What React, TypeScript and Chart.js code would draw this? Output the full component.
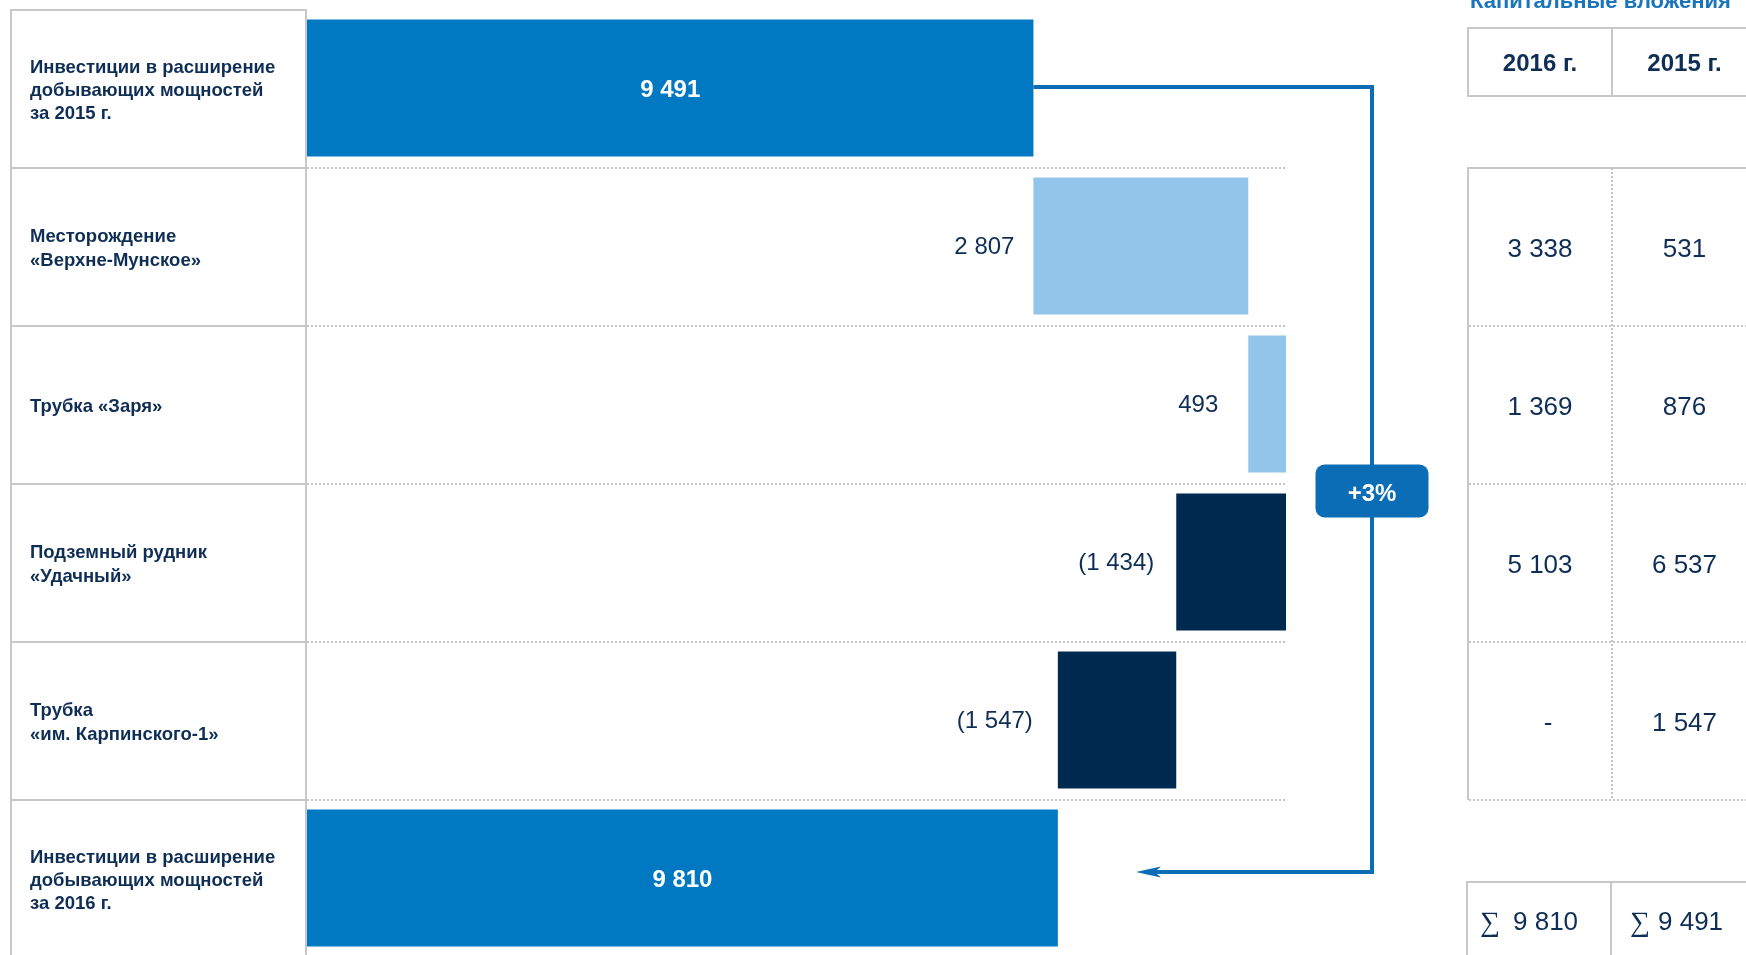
import React, { useEffect, useRef } from 'react';
import { Chart, registerables } from 'chart.js';

Chart.register(...registerables);

// ---------- data ----------
const CATEGORIES: (string | string[])[] = [
  ['Инвестиции в расширение', 'добывающих мощностей', 'за 2015 г.'],
  ['Месторождение', '«Верхне-Мунское»'],
  'Трубка «Заря»',
  ['Подземный рудник', '«Удачный»'],
  ['Трубка', '«им. Карпинского-1»'],
  ['Инвестиции в расширение', 'добывающих мощностей', 'за 2016 г.'],
];
const START_TOTAL = 9491;
const CHANGES = [2807, 493, -1434, -1547];
const END_TOTAL = 9810;
const GROWTH_LABEL = '+3%';

const TABLE_TITLE = 'Капитальные вложения';
const TABLE_YEARS = ['2016 г.', '2015 г.'];
const CAPEX_2016: (number | null)[] = [3338, 1369, 5103, null];
const CAPEX_2015: (number | null)[] = [531, 876, 6537, 1547];
const TOTAL_2016 = 9810;
const TOTAL_2015 = 9491;

// ---------- styles ----------
const SANS = "'Liberation Sans', Arial, Helvetica, sans-serif";
const SERIF = "'Liberation Serif', 'DejaVu Serif', serif";
const TEXT_DARK = '#0f2e55';
const TOTAL_COLOR = '#0079c2';
const UP_COLOR = '#93c5eb';
const DOWN_COLOR = '#00294f';
const LINK_COLOR = '#0b6db5';
const TITLE_COLOR = '#1a75bb';
const GRID_SOLID = '#c8c8c8';
const GRID_DOT = '#c4c4c4';
const LABEL_GAPS = [0, 19, 30, 22, 25, 0]; // style: gap between outside label and bar

const fmt = (n: number) => String(Math.round(n)).replace(/\B(?=(\d{3})+(?!\d))/g, ' ');

// floating bars built from the values
const FLOATS: [number, number][] = [];
const BAR_LABELS: string[] = [];
const BAR_COLORS: string[] = [];
{
  FLOATS.push([0, START_TOTAL]);
  BAR_LABELS.push(fmt(START_TOTAL));
  BAR_COLORS.push(TOTAL_COLOR);
  let run = START_TOTAL;
  for (const c of CHANGES) {
    FLOATS.push([run, run + c]);
    BAR_LABELS.push(c >= 0 ? fmt(c) : `(${fmt(-c)})`);
    BAR_COLORS.push(c >= 0 ? UP_COLOR : DOWN_COLOR);
    run += c;
  }
  FLOATS.push([0, END_TOTAL]);
  BAR_LABELS.push(fmt(END_TOTAL));
  BAR_COLORS.push(TOTAL_COLOR);
}
const X_MAX = Math.max(...FLOATS.flat());
const ROW_PX = 158;
const PLOT_TOP = 9;
const CANVAS_W = 1746;
const CANVAS_H = 955;
const Y_MAX = -0.5 + (CANVAS_H - PLOT_TOP) / ROW_PX;

const overlay = {
  id: 'overlay',
  beforeDatasetsDraw(chart: any) {
    const { ctx, chartArea } = chart;
    const ys = chart.scales.y;
    const L = chartArea.left;
    const R = chartArea.right;
    const n = CATEGORIES.length;
    ctx.save();
    // left label table
    const tblLeft = L - 296;
    ctx.strokeStyle = GRID_SOLID;
    ctx.lineWidth = 2;
    ctx.beginPath();
    const topY = Math.round(ys.getPixelForValue(-0.5)) + 1;
    ctx.moveTo(tblLeft, topY - 1);
    ctx.lineTo(tblLeft, chart.height);
    ctx.moveTo(L - 1, topY - 1);
    ctx.lineTo(L - 1, chart.height);
    for (let i = 0; i < n; i++) {
      const py = Math.round(ys.getPixelForValue(i - 0.5)) + 1;
      ctx.moveTo(tblLeft - 1, py);
      ctx.lineTo(L, py);
    }
    ctx.stroke();

    // category labels
    ctx.fillStyle = TEXT_DARK;
    ctx.font = `bold 18.5px ${SANS}`;
    ctx.textAlign = 'left';
    ctx.textBaseline = 'middle';
    const lh = 23.3;
    CATEGORIES.forEach((lab, i) => {
      const lines = Array.isArray(lab) ? lab : [lab];
      const cy = ys.getPixelForValue(i) + 3;
      lines.forEach((ln, k) => {
        ctx.fillText(ln, tblLeft + 19, cy + (k - (lines.length - 1) / 2) * lh);
      });
    });

    // dotted row separators in plot
    ctx.setLineDash([2, 2]);
    ctx.strokeStyle = GRID_DOT;
    ctx.lineWidth = 2;
    ctx.beginPath();
    for (let i = 1; i < n; i++) {
      const py = Math.round(ys.getPixelForValue(i - 0.5)) + 1;
      ctx.moveTo(L, py);
      ctx.lineTo(R, py);
    }
    ctx.stroke();
    ctx.restore();
  },
  afterDatasetsDraw(chart: any) {
    const { ctx, chartArea } = chart;
    const ys = chart.scales.y;
    const meta = chart.getDatasetMeta(0);
    const els = meta.data;
    const R = chartArea.right;
    const last = els.length - 1;
    ctx.save();

    // bar labels
    els.forEach((el: any, i: number) => {
      const left = Math.min(el.x, el.base);
      const right = Math.max(el.x, el.base);
      ctx.textBaseline = 'middle';
      if (i === 0 || i === last) {
        ctx.fillStyle = '#ffffff';
        ctx.font = `bold 24px ${SANS}`;
        ctx.textAlign = 'center';
        ctx.fillText(BAR_LABELS[i], (left + right) / 2, el.y + 2);
      } else {
        ctx.fillStyle = TEXT_DARK;
        ctx.font = `24px ${SANS}`;
        ctx.textAlign = 'right';
        ctx.fillText(BAR_LABELS[i], left - LABEL_GAPS[i], el.y + 1);
      }
    });

    // connector with arrow
    const first = els[0];
    const end = els[last];
    const linkX = R + 86;
    const y0 = first.y - 1;
    const y1 = end.y - 6;
    const tipX = Math.max(end.x, end.base) + 78;
    ctx.strokeStyle = LINK_COLOR;
    ctx.lineWidth = 4;
    ctx.lineJoin = 'miter';
    ctx.beginPath();
    ctx.moveTo(Math.max(first.x, first.base), y0);
    ctx.lineTo(linkX, y0);
    ctx.lineTo(linkX, y1);
    ctx.lineTo(tipX + 16, y1);
    ctx.stroke();
    ctx.fillStyle = LINK_COLOR;
    ctx.beginPath();
    ctx.moveTo(tipX, y1);
    ctx.lineTo(tipX + 25, y1 - 5.5);
    ctx.lineTo(tipX + 19, y1);
    ctx.lineTo(tipX + 25, y1 + 5.5);
    ctx.closePath();
    ctx.fill();

    // growth badge
    const bw = 113, bh = 53;
    const bcx = linkX;
    const bcy = ys.getPixelForValue(2.5) + 8;
    ctx.beginPath();
    (ctx as any).roundRect(bcx - bw / 2, bcy - bh / 2, bw, bh, 9);
    ctx.fill();
    ctx.fillStyle = '#ffffff';
    ctx.font = `bold 24px ${SANS}`;
    ctx.textAlign = 'center';
    ctx.textBaseline = 'middle';
    ctx.fillText(GROWTH_LABEL, bcx, bcy + 3);

    // right table
    const c1 = 1468, c2 = 1612, c3 = 1757;
    const W = chart.width;
    // title
    ctx.fillStyle = TITLE_COLOR;
    ctx.font = `bold 22px ${SANS}`;
    ctx.textAlign = 'left';
    ctx.textBaseline = 'alphabetic';
    ctx.fillText(TABLE_TITLE, 1470, 8);

    // header
    const hTop = 28, hBot = 96;
    ctx.strokeStyle = GRID_SOLID;
    ctx.lineWidth = 2;
    ctx.setLineDash([]);
    ctx.beginPath();
    ctx.moveTo(c1 - 1, hTop); ctx.lineTo(W, hTop);
    ctx.moveTo(c1 - 1, hBot); ctx.lineTo(W, hBot);
    ctx.moveTo(c1, hTop); ctx.lineTo(c1, hBot);
    ctx.moveTo(c2, hTop); ctx.lineTo(c2, hBot);
    ctx.stroke();
    ctx.fillStyle = TEXT_DARK;
    ctx.font = `bold 24px ${SANS}`;
    ctx.textAlign = 'center';
    ctx.textBaseline = 'middle';
    ctx.fillText(TABLE_YEARS[0], (c1 + c2) / 2, (hTop + hBot) / 2 + 2);
    ctx.fillText(TABLE_YEARS[1], (c2 + c3) / 2, (hTop + hBot) / 2 + 2);

    // body
    const dTop = Math.round(ys.getPixelForValue(0.5)) + 1;
    const dBot = Math.round(ys.getPixelForValue(CHANGES.length + 0.5)) + 1;
    ctx.beginPath();
    ctx.moveTo(c1 - 1, dTop); ctx.lineTo(W, dTop);
    ctx.moveTo(c1, dTop); ctx.lineTo(c1, dBot);
    ctx.stroke();
    ctx.setLineDash([2, 2]);
    ctx.strokeStyle = GRID_DOT;
    ctx.beginPath();
    ctx.moveTo(c2, dTop); ctx.lineTo(c2, dBot);
    for (let i = 1; i <= CHANGES.length; i++) {
      const py = Math.round(ys.getPixelForValue(i + 0.5)) + 1;
      ctx.moveTo(c1 + 1, py); ctx.lineTo(W, py);
    }
    ctx.stroke();
    ctx.setLineDash([]);
    ctx.fillStyle = TEXT_DARK;
    ctx.font = `26px ${SANS}`;
    for (let i = 0; i < CHANGES.length; i++) {
      const py = ys.getPixelForValue(i + 1) + 4;
      const a = CAPEX_2016[i];
      const b = CAPEX_2015[i];
      ctx.fillText(a == null ? '-' : fmt(a), (c1 + c2) / 2 + (a == null ? 8 : 0), py);
      ctx.fillText(b == null ? '-' : fmt(b), (c2 + c3) / 2, py);
    }

    // totals row
    const sTop = 882;
    ctx.strokeStyle = GRID_SOLID;
    ctx.lineWidth = 2;
    ctx.beginPath();
    ctx.moveTo(c1 - 2, sTop); ctx.lineTo(W, sTop);
    ctx.moveTo(c1 - 1, sTop); ctx.lineTo(c1 - 1, chart.height);
    ctx.moveTo(c2 - 1, sTop); ctx.lineTo(c2 - 1, chart.height);
    ctx.stroke();
    const sy = 923;
    ctx.textAlign = 'left';
    ctx.fillStyle = TEXT_DARK;
    const totals = [TOTAL_2016, TOTAL_2015];
    const sigX = [c1 + 12, c2 + 18];
    const numX = [c1 + 45, c2 + 46];
    totals.forEach((t, k) => {
      ctx.font = `28px ${SERIF}`;
      ctx.fillText('∑', sigX[k], sy + 1);
      ctx.font = `26px ${SANS}`;
      ctx.fillText(fmt(t), numX[k], sy);
    });

    ctx.restore();
  },
};

export default function App() {
  const ref = useRef<HTMLCanvasElement | null>(null);
  useEffect(() => {
    if (!ref.current) return;
    const chart = new Chart(ref.current, {
      type: 'bar',
      data: {
        labels: CATEGORIES as any,
        datasets: [
          {
            data: FLOATS.map((v, i) => ({ x: v, y: i })) as any,
            backgroundColor: BAR_COLORS,
            borderWidth: 0,
            borderSkipped: false,
            barPercentage: 137 / ROW_PX,
            categoryPercentage: 1,
          },
        ],
      },
      options: {
        indexAxis: 'y',
        responsive: false,
        animation: false,
        devicePixelRatio: 1,
        layout: { padding: { left: 30, top: PLOT_TOP, right: 460, bottom: 0 } },
        plugins: { legend: { display: false }, tooltip: { enabled: false } },
        scales: {
          x: { type: 'linear', display: false, min: 0, max: X_MAX },
          y: {
            type: 'linear',
            reverse: true,
            offset: false,
            min: -0.5,
            max: Y_MAX,
            afterBuildTicks: (s: any) => {
              s.ticks = CATEGORIES.map((_, i) => ({ value: i }));
            },
            afterFit: (s: any) => {
              s.width = 277;
              s.paddingTop = 0;
              s.paddingBottom = 0;
            },
            grid: { display: false },
            border: { display: false },
            ticks: { display: false },
          },
        },
      } as any,
      plugins: [overlay],
    });
    return () => chart.destroy();
  }, []);
  return (
    <div style={{ position: 'absolute', left: 0, top: 0, width: CANVAS_W, height: CANVAS_H, background: '#fff' }}>
      <canvas ref={ref} width={CANVAS_W} height={CANVAS_H} style={{ display: 'block' }} />
    </div>
  );
}
